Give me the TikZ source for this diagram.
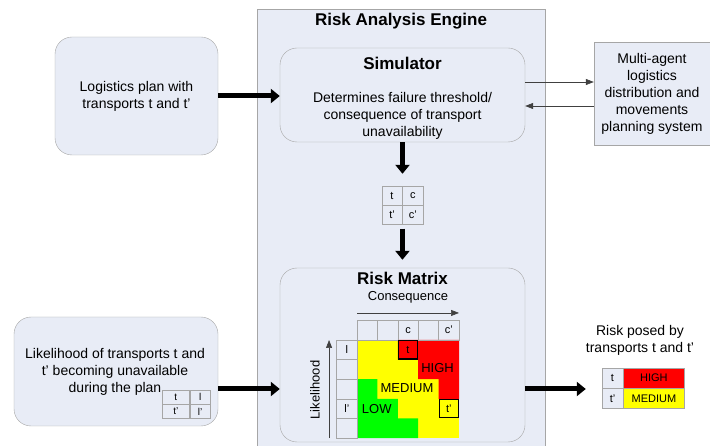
\documentclass[tikz,border=0pt]{standalone}
\usepackage{fontspec}
\setmainfont{Liberation Sans}
\usetikzlibrary{arrows.meta,positioning}

\definecolor{panel}{HTML}{E8ECF6}
\definecolor{rim}{HTML}{A6A6A6}
\definecolor{riskhigh}{HTML}{FF0000}
\definecolor{riskmed}{HTML}{FFFF00}
\definecolor{risklow}{HTML}{00FF00}

\begin{document}
\begin{tikzpicture}[x=1pt,y=-1pt]
\useasboundingbox (0,0) rectangle (710,446);
%----------estilos---------
\tikzset{
roundbox/.style={draw=rim, fill=panel, rounded corners=17pt, inner sep=0pt},
plainbox/.style={draw=rim, fill=panel, inner sep=0pt},
bodytext/.style={align=center, font=\fontsize{14}{17}\selectfont},
headtext/.style={font=\fontsize{17}{20}\selectfont\bfseries},
fatarrow/.style={line width=5pt, -{Triangle[width=14pt,length=9pt]}},
thinarrow/.style={draw=black!75, line width=0.6pt, -{Triangle[width=6pt,length=8pt]}},
cell/.style={draw=rim, fill=panel, inner sep=0pt, minimum width=20.5pt, minimum height=19pt, font=\fontsize{11}{13}\selectfont},
minicell/.style={draw=rim, fill=panel, inner sep=0pt, minimum height=14pt, font=\fontsize{10}{12}\selectfont},
}

%----------engine----------
\draw [draw=rim, fill=panel] (257,460) rectangle (545,9);
\node [headtext] (engine) at (401,21) {Risk Analysis Engine};

%----------simulator----------
\node [roundbox, minimum width=245pt, minimum height=94pt] (sim) at (402.5,95) {};
\node [headtext] (simtitle) at (402.5,63) {Simulator};
\node [bodytext] (simtext) at (402.5,115.5) {Determines failure threshold/\\consequence of transport\\unavailability};

%----------entradas----------
\node [roundbox, bodytext, minimum width=163pt, minimum height=118pt] (plan) at (136.5,96) {Logistics plan with\\transports t and t'};

\node [roundbox, minimum width=204pt, minimum height=109pt] (likeli) at (116,371.5) {};
\node [bodytext] (likelitext) at (115,372) {Likelihood of transports t and\\t' becoming unavailable\\during the plan};
\node [minicell, minimum width=27.5pt] (lt) at (175.75,397) {t};
\node [minicell, minimum width=20.5pt, right=0pt of lt] (ll) {l};
\node [minicell, minimum width=27.5pt, below=0pt of lt] (ltp) {t'};
\node [minicell, minimum width=20.5pt, right=0pt of ltp] (llp) {l'};

%----------agentes----------
\node [plainbox, bodytext, minimum width=116pt, minimum height=103pt] (agents) at (652,93.5) {Multi-agent\\logistics\\distribution and\\movements\\planning system};

%----------tabla t c----------
\node [cell] (ct) at (392,195.5) {t};
\node [cell, right=0pt of ct] (cc) {c};
\node [cell, below=0pt of ct] (ctp) {t'};
\node [cell, right=0pt of ctp] (ccp) {c'};

%----------matriz de riesgo----------
\node [roundbox, minimum width=245pt, minimum height=174pt] (riskbox) at (402.5,355) {};
\node [headtext] (rmtitle) at (402.5,278) {Risk Matrix};

\begin{scope}[shift={(357,340)}, x=20.4pt, y=-19.6pt]
\fill [riskmed] (0,0) rectangle (5,5);
\fill [riskhigh] (2,0) -- (5,0) -- (5,3) -- (4,3) -- (4,2) -- (3,2) -- (3,1) -- (2,1) -- cycle;
\fill [risklow] (0,2) -- (1,2) -- (1,3) -- (2,3) -- (2,4) -- (3,4) -- (3,5) -- (0,5) -- cycle;
% cabeceras
\foreach \i in {0,...,4} {
  \draw [rim] (\i,-1) rectangle (\i+1,0);
  \draw [rim] (-1,\i) rectangle (0,\i+1);
}
\node [font=\fontsize{11}{13}\selectfont] (hc) at (2.5,-0.5) {c};
\node [font=\fontsize{11}{13}\selectfont] (hcp) at (4.5,-0.5) {c'};
\node [font=\fontsize{11}{13}\selectfont] (hl) at (-0.5,0.5) {l};
\node [font=\fontsize{11}{13}\selectfont] (hlp) at (-0.5,3.5) {l'};
% celdas marcadas
\node [draw=black, line width=1.2pt, inner sep=0pt, minimum width=19pt, minimum height=18.4pt, font=\fontsize{11}{13}\selectfont] (tcell) at (2.5,0.5) {t};
\node [draw=black, line width=1.2pt, inner sep=0pt, minimum width=19pt, minimum height=18.4pt, font=\fontsize{11}{13}\selectfont] (tpcell) at (4.5,3.5) {t'};
\node [font=\fontsize{13}{15}\selectfont] (high) at (3.95,1.45) {HIGH};
\node [font=\fontsize{13}{15}\selectfont] (medium) at (2.45,2.45) {MEDIUM};
\node [font=\fontsize{13}{15}\selectfont] (low) at (0.97,3.5) {LOW};
% ejes
\coordinate (conA) at (0,-1.38);
\coordinate (conB) at (5,-1.38);
\coordinate (likA) at (-1.37,5);
\coordinate (likB) at (-1.37,0);
\draw [thinarrow] (conA) -- (conB);
\draw [thinarrow] (likA) -- (likB);
\node [font=\fontsize{13}{15}\selectfont] (conlabel) at (2.5,-2.2) {Consequence};
\node [font=\fontsize{13}{15}\selectfont, rotate=90] (liklabel) at (-2.06,2.55) {Likelihood};
\end{scope}

%----------salida----------
\node [bodytext] (risktext) at (640,340) {Risk posed by\\transports t and t'};
\node [cell, minimum width=21pt, minimum height=20pt] (ot) at (612.5,378) {t};
\node [cell, fill=riskhigh, minimum width=61pt, minimum height=20pt, right=0pt of ot] (oh) {HIGH};
\node [cell, minimum width=21pt, minimum height=20pt, below=0pt of ot] (otp) {t'};
\node [cell, fill=riskmed, minimum width=61pt, minimum height=20pt, right=0pt of otp] (om) {MEDIUM};

%----------flechas----------
\draw [fatarrow] (plan.east) -- (plan.east -| sim.west);
\draw [fatarrow, shorten >=12pt] (sim.south) -- (sim.south |- ct.north);
\draw [fatarrow, shorten <=4pt, shorten >=8pt] (ctp.south east) -- (ctp.south east |- riskbox.north);
\draw [thinarrow] ([yshift=13pt]sim.east) -- ([yshift=13pt]sim.east -| agents.west);
\draw [thinarrow] ([yshift=-12.5pt]agents.west) -- ([yshift=-12.5pt]agents.west -| sim.east);
\draw [fatarrow] ([yshift=-17.5pt]likeli.east) -- ([yshift=-17.5pt]likeli.east -| riskbox.west);
\draw [fatarrow, shorten >=16pt] ([yshift=-34pt]riskbox.east) -- ([yshift=-34pt]riskbox.east -| ot.west);
\end{tikzpicture}
\end{document}
